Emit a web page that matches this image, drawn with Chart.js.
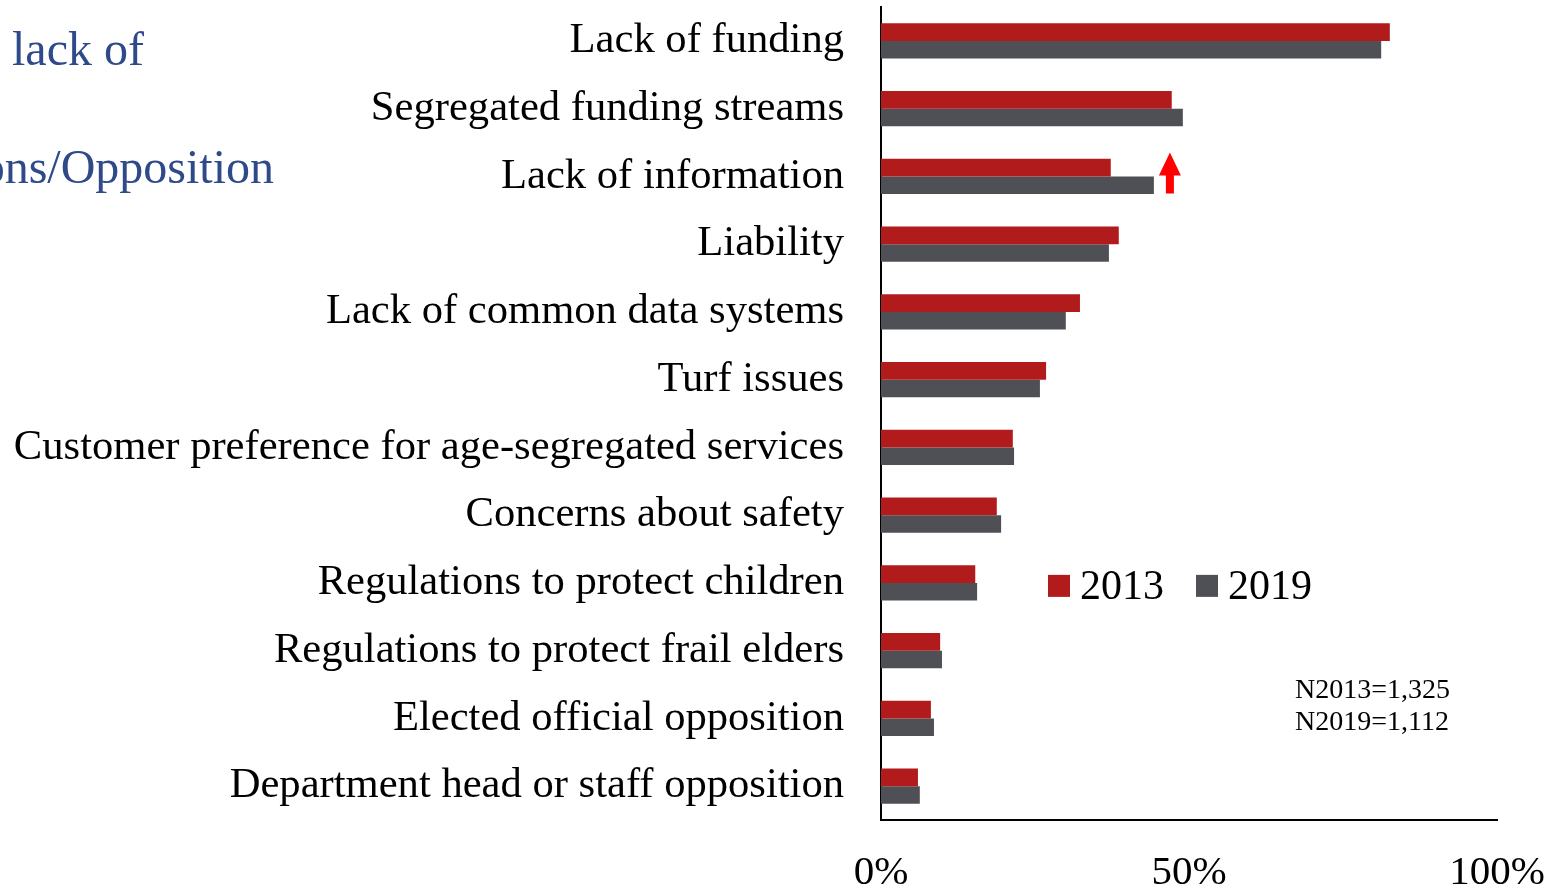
<!DOCTYPE html>
<html>
<head>
<meta charset="utf-8">
<script src="https://cdn.jsdelivr.net/npm/chart.js@4/dist/chart.umd.min.js"></script>
<style>
  html, body { margin: 0; padding: 0; background: #fff; }
  #wrap { width: 1553px; height: 889px; position: relative; }
</style>
</head>
<body>
<div id="wrap"><canvas id="barriersChart"></canvas></div>
<script>
// categories, top to bottom
const categories = [
  'Lack of funding',
  'Segregated funding streams',
  'Lack of information',
  'Liability',
  'Lack of common data systems',
  'Turf issues',
  'Customer preference for age-segregated services',
  'Concerns about safety',
  'Regulations to protect children',
  'Regulations to protect frail elders',
  'Elected official opposition',
  'Department head or staff opposition'
];
const values2013 = [82.6, 47.2, 37.3, 38.6, 32.3, 26.8, 21.4, 18.8, 15.3, 9.6, 8.1, 6.0];
const values2019 = [81.2, 49.0, 44.3, 37.0, 30.0, 25.8, 21.6, 19.5, 15.6, 9.9, 8.6, 6.3];
const xTicks = [0, 50, 100];
const seriesNames = ['2013', '2019'];
const sampleNotes = ['N2013=1,325', 'N2019=1,112'];

const red = '#B21B1C';
const grey = '#4F5055';
const serif = '"Liberation Serif", "Times New Roman", serif';
const arrowAt = 46.9; // % position of the red arrow

// extra drawing: cut-off slide text, legend, sample sizes, arrow
const extras = {
  id: 'extras',
  afterDraw(chart) {
    const ctx = chart.ctx;
    const x = chart.scales.x;
    const y = chart.scales.y;
    ctx.save();

    // leftover slide text on the left
    ctx.fillStyle = '#2E4A88';
    ctx.font = '48px ' + serif;
    ctx.textBaseline = 'alphabetic';
    ctx.textAlign = 'left';
    ctx.fillText('lack of', 12, 65);
    ctx.textAlign = 'right';
    ctx.fillText('ons/Opposition', 274, 183);

    // legend inside the plot
    const legY = y.getPixelForValue(8);
    ctx.font = '42px ' + serif;
    ctx.textAlign = 'left';
    ctx.textBaseline = 'middle';
    const colors = [red, grey];
    const legX = [1048, 1196];
    seriesNames.forEach((name, i) => {
      ctx.fillStyle = colors[i];
      ctx.fillRect(legX[i], legY - 8, 22, 22);
      ctx.fillStyle = '#000';
      ctx.fillText(name, legX[i] + 32, legY + 5);
    });

    // sample sizes
    ctx.font = '28px ' + serif;
    ctx.textBaseline = 'alphabetic';
    ctx.fillText(sampleNotes[0], 1295, 698);
    ctx.fillText(sampleNotes[1], 1295, 730);

    // red arrow next to "Lack of information"
    const ax = x.getPixelForValue(arrowAt);
    const ay = y.getPixelForValue(2);
    ctx.fillStyle = '#FF0000';
    ctx.beginPath();
    ctx.moveTo(ax, ay - 24);
    ctx.lineTo(ax + 11, ay - 1);
    ctx.lineTo(ax + 4, ay - 1);
    ctx.lineTo(ax + 4, ay + 17);
    ctx.lineTo(ax - 4, ay + 17);
    ctx.lineTo(ax - 4, ay - 1);
    ctx.lineTo(ax - 11, ay - 1);
    ctx.closePath();
    ctx.fill();

    ctx.restore();
  }
};

new Chart(document.getElementById('barriersChart'), {
  type: 'bar',
  data: {
    labels: categories,
    datasets: [
      { label: seriesNames[0], data: values2013, backgroundColor: red },
      { label: seriesNames[1], data: values2019, backgroundColor: grey }
    ]
  },
  options: {
    indexAxis: 'y',
    responsive: true,
    maintainAspectRatio: false,
    animation: false,
    layout: { padding: { top: 7, right: 56, left: 0, bottom: 0 } },
    datasets: {
      bar: { barPercentage: 1, categoryPercentage: 0.52 }
    },
    plugins: {
      legend: { display: false },
      tooltip: { enabled: false }
    },
    scales: {
      x: {
        min: 0,
        max: 100,
        afterBuildTicks: (scale) => {
          scale.ticks = xTicks.map(v => ({ value: v }));
        },
        afterFit: (scale) => {
          scale.height = 69;
          scale.paddingLeft = 0;
          scale.paddingRight = 0;
        },
        grid: { display: false, drawTicks: false },
        border: { color: '#000', width: 2 },
        ticks: {
          padding: 29,
          color: '#000',
          font: { family: serif, size: 41 },
          callback: (v) => v + '%'
        }
      },
      y: {
        afterFit: (scale) => {
          scale.width = 881;
          scale.paddingTop = 0;
          scale.paddingBottom = 0;
        },
        grid: { display: false, drawTicks: false },
        border: { color: '#000', width: 2 },
        ticks: {
          padding: 37,
          color: '#000',
          autoSkip: false,
          font: { family: serif, size: 42.6 }
        }
      }
    }
  },
  plugins: [extras]
});
</script>
</body>
</html>
